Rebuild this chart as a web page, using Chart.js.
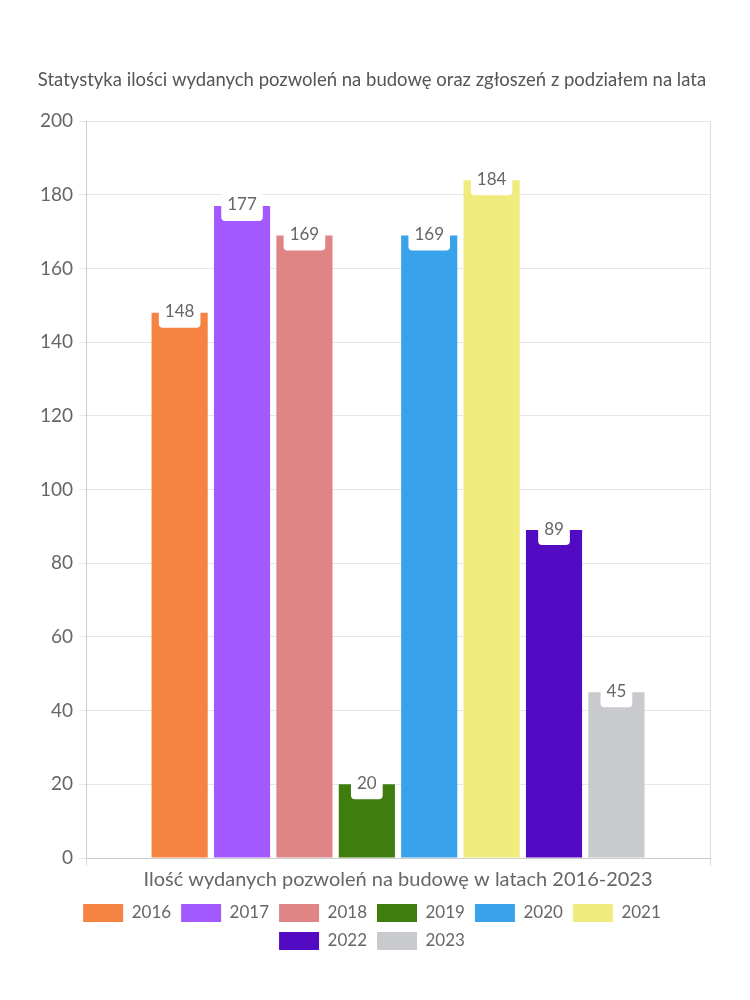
<!DOCTYPE html>
<html>
<head>
<meta charset="utf-8">
<script src="https://cdn.jsdelivr.net/npm/chart.js@4.4.1/dist/chart.umd.min.js"></script>
<style>
  html, body { margin: 0; padding: 0; background: #ffffff; }
  #wrap { width: 750px; height: 1000px; position: relative; }
</style>
</head>
<body>
<div id="wrap"><canvas id="c" width="750" height="1000"></canvas></div>
<script>
const categories = ['Ilość wydanych pozwoleń na budowę w latach 2016-2023'];
const seriesNames = ['2016', '2017', '2018', '2019', '2020', '2021', '2022', '2023'];
const seriesValues = [148, 177, 169, 20, 169, 184, 89, 45];
const seriesColors = ['#F58442', '#A259FF', '#E08585', '#3F7D0F', '#38A2EA', '#F0EB7D', '#520BC2', '#C9CACE'];
const yTicks = { min: 0, max: 200, step: 20 };
const titleText = 'Statystyka ilości wydanych pozwoleń na budowę oraz zgłoszeń z podziałem na lata';

const FONT = 'Lato, "Noto Sans", sans-serif';

const labelPlugin = {
  id: 'boxLabels',
  afterDatasetsDraw(chart) {
    const ctx = chart.ctx;
    ctx.save();
    ctx.font = '17px ' + FONT;
    chart.data.datasets.forEach((ds, i) => {
      const meta = chart.getDatasetMeta(i);
      meta.data.forEach((bar, j) => {
        const txt = String(ds.data[j]);
        const w = ctx.measureText(txt).width + 12;
        const h = 29;
        const x = bar.x - w / 2;
        const y = bar.y - 14;
        ctx.fillStyle = '#ffffff';
        ctx.beginPath();
        ctx.roundRect(x, y, w, h, 4);
        ctx.fill();
        ctx.fillStyle = '#666666';
        ctx.textAlign = 'center';
        ctx.textBaseline = 'middle';
        ctx.fillText(txt, bar.x, bar.y - 1);
      });
    });
    ctx.restore();
  }
};

new Chart(document.getElementById('c'), {
  type: 'bar',
  data: {
    labels: categories,
    datasets: seriesNames.map((n, i) => ({
      label: n,
      data: [seriesValues[i]],
      backgroundColor: seriesColors[i],
      borderColor: seriesColors[i],
      borderWidth: 0
    }))
  },
  options: {
    responsive: false,
    animation: false,
    layout: { padding: { top: 69, left: 34, right: 40, bottom: 40 } },
    plugins: {
      title: {
        display: true,
        text: titleText,
        color: '#555555',
        font: { family: FONT, size: 18.5, weight: 'normal' },
        padding: { top: 0, bottom: 30 }
      },
      legend: {
        position: 'bottom',
        labels: {
          color: '#666666',
          font: { family: FONT, size: 17 },
          boxWidth: 40,
          boxHeight: 18,
          padding: 10
        }
      },
      tooltip: { enabled: false }
    },
    scales: {
      x: {
        grid: { color: '#dddddd', drawOnChartArea: true, tickLength: 8 },
        border: { color: '#cccccc' },
        ticks: { color: '#666666', font: { family: FONT, size: 20 }, padding: 2 }
      },
      y: {
        min: yTicks.min,
        max: yTicks.max,
        grid: { color: '#e6e6e6', tickLength: 7 },
        border: { color: '#cccccc' },
        ticks: { stepSize: yTicks.step, color: '#666666', font: { family: FONT, size: 19 }, padding: 6 }
      }
    }
  },
  plugins: [labelPlugin]
});
</script>
</body>
</html>
